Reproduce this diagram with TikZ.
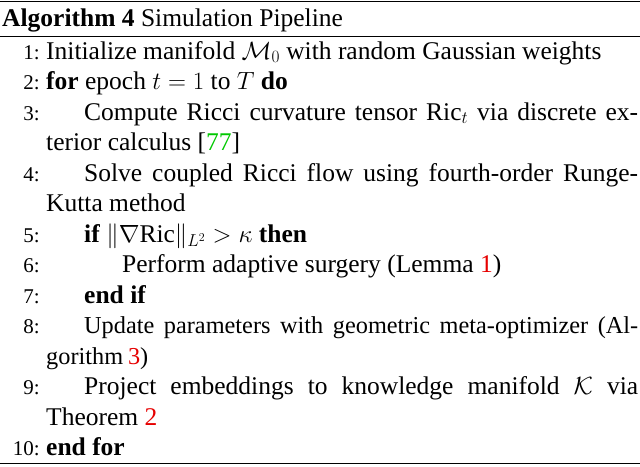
\documentclass[tikz,border=0pt]{standalone}
\usepackage{fontspec}
\setmainfont{Liberation Serif}
\usepackage{amsmath}
\definecolor{refgreen}{RGB}{0,200,0}
\definecolor{refred}{RGB}{230,0,0}
\begin{document}
\begin{tikzpicture}[x=1pt,y=-1pt,
  num/.style={anchor=base east,inner sep=0pt,font=\fontsize{21}{24}\selectfont},
  ln/.style={anchor=base west,inner sep=0pt,text width=592pt,align=justify,font=\fontsize{25.5}{30.5}\selectfont}]
\useasboundingbox (0,0) rectangle (640,466);
\draw[line width=1.4pt] (0,1.5) -- (640,1.5);
\draw[line width=0.8pt] (0,36) -- (640,36);
\draw[line width=1.4pt] (0,463.5) -- (640,463.5);
\node[anchor=base west,inner sep=0pt,font=\fontsize{25.5}{30.5}\selectfont] (h) at (2,26) {\textbf{Algorithm 4} Simulation Pipeline};
\foreach \n/\y in {1/59,2/89.5,3/120,4/181,5/242,6/272.5,7/303,8/333.5,9/394.5,10/455.5}
  \node[num] (n\n) at (40,\y) {\n:};
\node[ln] (l1) at (46,59) {Initialize manifold $\mathcal{M}_0$ with random Gaussian weights};
\node[ln] (l2) at (46,89.5) {\textbf{for} epoch $t=1$ to $T$ \textbf{do}};
\node[ln] (l3) at (46,120) {\hspace*{38pt}Compute Ricci curvature tensor $\mathrm{Ric}_t$ via discrete ex-\linebreak terior calculus [\textcolor{refgreen}{77}]};
\node[ln] (l4) at (46,181) {\hspace*{38pt}Solve coupled Ricci flow using fourth-order Runge-\linebreak Kutta method};
\node[ln] (l5) at (46,242) {\hspace*{38pt}\textbf{if} $\|\nabla\mathrm{Ric}\|_{L^2}>\kappa$ \textbf{then}};
\node[ln] (l6) at (46,272.5) {\hspace*{76pt}Perform adaptive surgery (Lemma \textcolor{refred}{1})};
\node[ln] (l7) at (46,303) {\hspace*{38pt}\textbf{end if}};
\node[ln,font=\fontsize{24.3}{30.5}\selectfont] (l8) at (46,333.5) {\spaceskip=0.2em plus 0.3em minus 0.1em\hspace*{38pt}Update parameters with geometric meta-optimizer (Al-\linebreak gorithm \textcolor{refred}{3})};
\node[ln] (l9) at (46,394.5) {\hspace*{38pt}Project embeddings to knowledge manifold $\mathcal{K}$ via\linebreak Theorem \textcolor{refred}{2}};
\node[ln] (l10) at (46,455.5) {\textbf{end for}};
\end{tikzpicture}
\end{document}
